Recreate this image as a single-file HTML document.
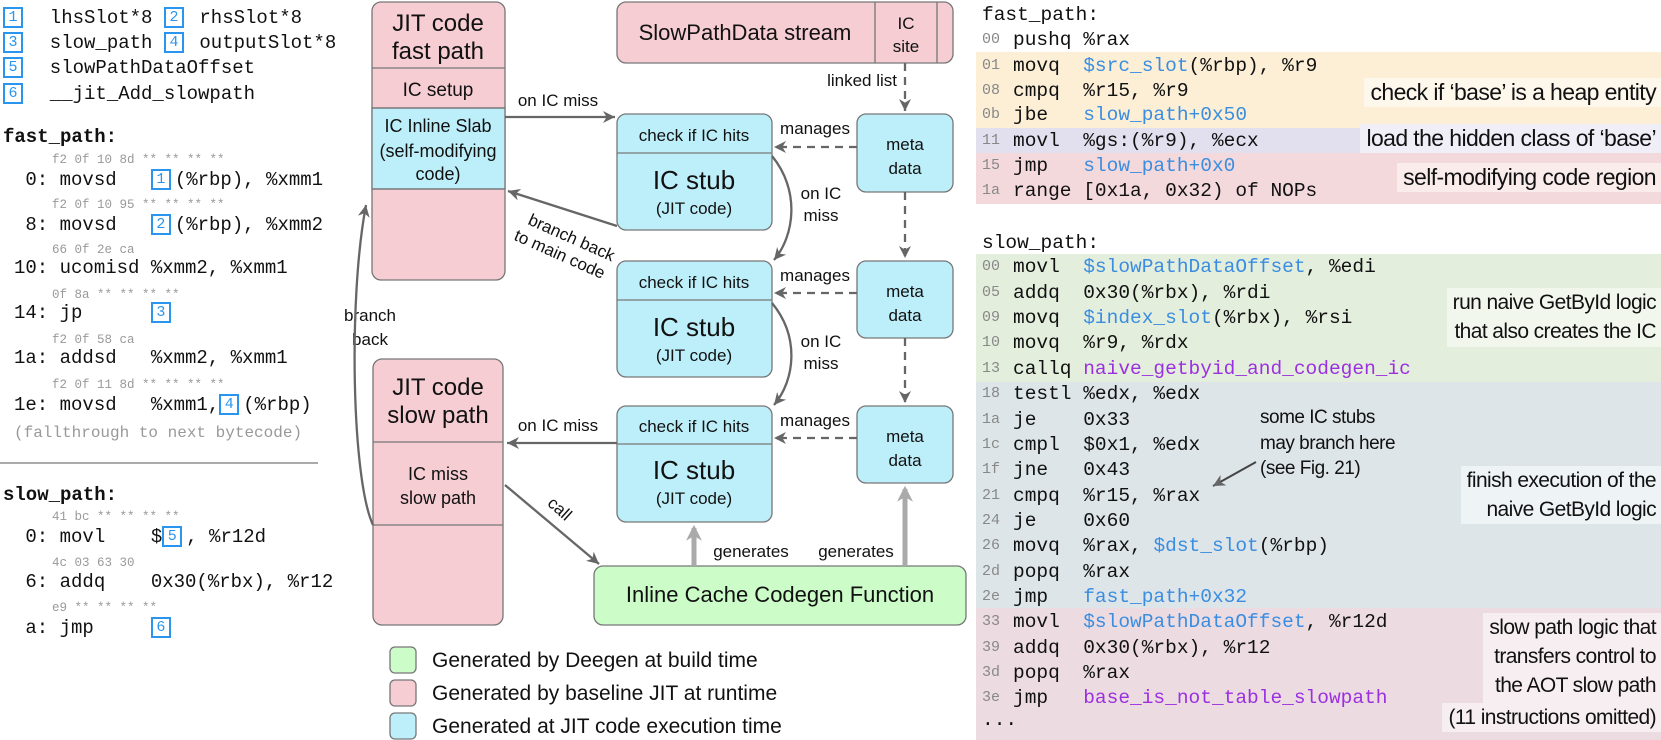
<!DOCTYPE html>
<html><head><meta charset="utf-8">
<style>
body{margin:0;background:#fff;}
#c{position:relative;width:1661px;height:740px;overflow:hidden;background:#fff;font-family:"Liberation Sans",sans-serif;}
.m{position:absolute;font-family:"Liberation Mono",monospace;white-space:pre;color:#111;}
.l{font-size:19px;line-height:24px;height:24px;}
.h{font-size:12.5px;line-height:14px;color:#999;}
.b{display:inline-block;box-sizing:border-box;width:20px;height:21px;border:2px solid #2a95ee;color:#2a95ee;font-size:15px;line-height:17px;text-align:center;vertical-align:2px;margin-right:4px;}
.r{font-size:19.5px;line-height:24px;height:24px;left:1013px;}
.n{position:absolute;left:982px;font-family:"Liberation Mono",monospace;font-size:15px;line-height:24px;color:#888;}
.bl{color:#3b8de0}.pu{color:#9b30e0}
.band{position:absolute;left:976px;right:0;}
.ann{position:absolute;right:0;font-size:21px;letter-spacing:-0.6px;text-align:right;color:#111;padding:0 5px 0 6px;line-height:29px;}
.big{font-size:23px;}
</style></head><body><div id="c">

<!-- LEFT PANEL -->
<div class="m l" style="left:3px;top:6px"><span class="b">1</span>  lhsSlot*8</div>
<div class="m l" style="left:164px;top:6px"><span class="b">2</span> rhsSlot*8</div>
<div class="m l" style="left:3px;top:31px"><span class="b">3</span>  slow_path</div>
<div class="m l" style="left:164px;top:31px"><span class="b">4</span> outputSlot*8</div>
<div class="m l" style="left:3px;top:56px"><span class="b">5</span>  slowPathDataOffset</div>
<div class="m l" style="left:3px;top:82px"><span class="b">6</span>  __jit_Add_slowpath</div>
<div class="m l" style="left:3px;top:125px;font-weight:bold">fast_path:</div>

<div class="m h" style="left:52px;top:153px">f2 0f 10 8d ** ** ** **</div>
<div class="m l" style="left:14px;top:168px"> 0: movsd   <span class="b">1</span>(%rbp), %xmm1</div>
<div class="m h" style="left:52px;top:198px">f2 0f 10 95 ** ** ** **</div>
<div class="m l" style="left:14px;top:213px"> 8: movsd   <span class="b">2</span>(%rbp), %xmm2</div>
<div class="m h" style="left:52px;top:243px">66 0f 2e ca</div>
<div class="m l" style="left:14px;top:256px">10: ucomisd %xmm2, %xmm1</div>
<div class="m h" style="left:52px;top:288px">0f 8a ** ** ** **</div>
<div class="m l" style="left:14px;top:301px">14: jp      <span class="b">3</span></div>
<div class="m h" style="left:52px;top:333px">f2 0f 58 ca</div>
<div class="m l" style="left:14px;top:346px">1a: addsd   %xmm2, %xmm1</div>
<div class="m h" style="left:52px;top:378px">f2 0f 11 8d ** ** ** **</div>
<div class="m l" style="left:14px;top:393px">1e: movsd   %xmm1,<span class="b">4</span>(%rbp)</div>
<div class="m" style="left:14px;top:423px;font-size:16px;line-height:20px;color:#999">(fallthrough to next bytecode)</div>
<div style="position:absolute;left:0;top:462px;width:318px;height:2px;background:#aaa"></div>
<div class="m l" style="left:3px;top:483px;font-weight:bold">slow_path:</div>
<div class="m h" style="left:52px;top:510px">41 bc ** ** ** **</div>
<div class="m l" style="left:14px;top:525px"> 0: movl    $<span class="b">5</span>, %r12d</div>
<div class="m h" style="left:52px;top:556px">4c 03 63 30</div>
<div class="m l" style="left:14px;top:570px"> 6: addq    0x30(%rbx), %r12</div>
<div class="m h" style="left:52px;top:601px">e9 ** ** ** **</div>
<div class="m l" style="left:14px;top:616px"> a: jmp     <span class="b">6</span></div>

<!-- MIDDLE DIAGRAM -->
<svg style="position:absolute;left:0;top:0" width="1661" height="740" font-family="Liberation Sans, sans-serif">
<defs>
<marker id="a" markerWidth="12" markerHeight="12" refX="10" refY="5" orient="auto" markerUnits="userSpaceOnUse" viewBox="0 0 10 10"><path d="M0,0 L10,5 L0,10 L3,5 z" fill="#666"/></marker>
<marker id="g" markerWidth="16" markerHeight="16" refX="8" refY="5" orient="auto" markerUnits="userSpaceOnUse" viewBox="0 0 10 10"><path d="M0,0 L10,5 L0,10 L3,5 z" fill="#aaa"/></marker>
</defs>
<g stroke="#777" stroke-width="1.3">
<rect x="372" y="2" width="133" height="278" rx="9" fill="#f5cdd3"/>
<rect x="372" y="108" width="133" height="81" fill="#bdeffa"/>
<line x1="372" y1="68" x2="505" y2="68"/><line x1="372" y1="108" x2="505" y2="108"/><line x1="372" y1="189" x2="505" y2="189"/>
<rect x="373" y="359" width="130" height="266" rx="9" fill="#f5cdd3"/>
<line x1="373" y1="442" x2="503" y2="442"/><line x1="373" y1="525" x2="503" y2="525"/>
<rect x="617" y="2" width="336" height="61" rx="9" fill="#f5cdd3"/>
<line x1="875" y1="2" x2="875" y2="63"/><line x1="937" y1="2" x2="937" y2="63"/>
<rect x="617" y="114" width="155" height="116" rx="9" fill="#bdeffa"/><line x1="617" y1="153" x2="772" y2="153"/>
<rect x="617" y="261" width="155" height="116" rx="9" fill="#bdeffa"/><line x1="617" y1="300" x2="772" y2="300"/>
<rect x="617" y="406" width="155" height="116" rx="9" fill="#bdeffa"/><line x1="617" y1="444" x2="772" y2="444"/>
<rect x="857" y="114" width="96" height="78" rx="9" fill="#bdeffa"/>
<rect x="857" y="261" width="96" height="77" rx="9" fill="#bdeffa"/>
<rect x="857" y="406" width="96" height="77" rx="9" fill="#bdeffa"/>
<rect x="594" y="566" width="372" height="59" rx="9" fill="#ccfcc8"/>
<rect x="390" y="647" width="26" height="26" rx="5" fill="#ccfcc8"/>
<rect x="390" y="680" width="26" height="26" rx="5" fill="#f5cdd3"/>
<rect x="390" y="713" width="26" height="26" rx="5" fill="#bdeffa"/>
</g>
<g fill="#111" text-anchor="middle">
<text x="438" y="31" font-size="24">JIT code</text><text x="438" y="59" font-size="24">fast path</text>
<text x="438" y="96" font-size="19">IC setup</text>
<text x="438" y="132" font-size="18">IC Inline Slab</text><text x="438" y="157" font-size="18">(self-modifying</text><text x="438" y="180" font-size="18">code)</text>
<text x="438" y="395" font-size="24">JIT code</text><text x="438" y="423" font-size="24">slow path</text>
<text x="438" y="480" font-size="18">IC miss</text><text x="438" y="504" font-size="18">slow path</text>
<text x="745" y="40" font-size="22">SlowPathData stream</text>
<text x="906" y="29" font-size="17">IC</text><text x="906" y="52" font-size="17">site</text>
<text x="694" y="141" font-size="17">check if IC hits</text><text x="694" y="189" font-size="26">IC stub</text><text x="694" y="214" font-size="17">(JIT code)</text>
<text x="694" y="288" font-size="17">check if IC hits</text><text x="694" y="336" font-size="26">IC stub</text><text x="694" y="361" font-size="17">(JIT code)</text>
<text x="694" y="432" font-size="17">check if IC hits</text><text x="694" y="479" font-size="26">IC stub</text><text x="694" y="504" font-size="17">(JIT code)</text>
<text x="905" y="150" font-size="17">meta</text><text x="905" y="174" font-size="17">data</text>
<text x="905" y="297" font-size="17">meta</text><text x="905" y="321" font-size="17">data</text>
<text x="905" y="442" font-size="17">meta</text><text x="905" y="466" font-size="17">data</text>
<text x="780" y="602" font-size="22">Inline Cache Codegen Function</text>
<text x="558" y="106" font-size="17">on IC miss</text>
<text x="558" y="431" font-size="17">on IC miss</text>
<text x="815" y="134" font-size="17">manages</text>
<text x="815" y="281" font-size="17">manages</text>
<text x="815" y="426" font-size="17">manages</text>
<text x="821" y="199" font-size="17">on IC</text><text x="821" y="221" font-size="17">miss</text>
<text x="821" y="347" font-size="17">on IC</text><text x="821" y="369" font-size="17">miss</text>
<text x="370" y="321" font-size="17">branch</text><text x="370" y="345" font-size="17">back</text>
<text x="751" y="557" font-size="17">generates</text>
<text x="856" y="557" font-size="17">generates</text>
<text x="897" y="86" font-size="17" text-anchor="end">linked list</text>
<g transform="translate(566,250) rotate(24)" font-size="17"><text x="0" y="-8">branch back</text><text x="-4" y="12">to main code</text></g>
<text transform="translate(556,513) rotate(42)" font-size="17">call</text>
</g>
<g font-size="21" fill="#111">
<text x="432" y="667">Generated by Deegen at build time</text>
<text x="432" y="700">Generated by baseline JIT at runtime</text>
<text x="432" y="733">Generated at JIT code execution time</text>
</g>
<g stroke="#666" stroke-width="2.3" fill="none">
<line x1="505" y1="117" x2="615" y2="117" marker-end="url(#a)"/>
<line x1="617" y1="443" x2="507" y2="443" marker-end="url(#a)"/>
<line x1="617" y1="226" x2="508" y2="191" marker-end="url(#a)"/>
<line x1="505" y1="485" x2="599" y2="564" marker-end="url(#a)"/>
<path d="M373 525 C 352 480, 348 300, 366 205" marker-end="url(#a)"/>
<path d="M772 156 C 800 190, 795 235, 774 260" marker-end="url(#a)"/>
<path d="M772 303 C 800 337, 795 380, 774 405" marker-end="url(#a)"/>
</g>
<g stroke="#666" stroke-width="2.3" fill="none" stroke-dasharray="8,6">
<line x1="905" y1="63" x2="905" y2="111" marker-end="url(#a)"/>
<line x1="905" y1="192" x2="905" y2="258" marker-end="url(#a)"/>
<line x1="905" y1="338" x2="905" y2="403" marker-end="url(#a)"/>
<line x1="857" y1="147" x2="774" y2="147" marker-end="url(#a)"/>
<line x1="857" y1="293" x2="774" y2="293" marker-end="url(#a)"/>
<line x1="857" y1="438" x2="774" y2="438" marker-end="url(#a)"/>
</g>
<g stroke="#aaa" stroke-width="5">
<line x1="694" y1="566" x2="694" y2="528" marker-end="url(#g)"/>
<line x1="905" y1="566" x2="905" y2="489" marker-end="url(#g)"/>
</g>
</svg>

<!-- RIGHT PANEL -->
<div class="band" style="top:52px;height:76px;background:#fcefd6"></div>
<div class="band" style="top:128px;height:25px;background:#e2e0ee"></div>
<div class="band" style="top:153px;height:51px;background:#f3d9dc"></div>
<div class="band" style="top:254px;height:128px;background:#e4eedd"></div>
<div class="band" style="top:382px;height:226px;background:#dde5e9"></div>
<div class="band" style="top:608px;height:132px;background:#ecdce2"></div>

<div class="m r" style="left:982px;top:3px">fast_path:</div>
<div class="n" style="top:28px">00</div><div class="m r" style="top:28px">pushq %rax</div>
<div class="n" style="top:54px">01</div><div class="m r" style="top:54px">movq  <span class="bl">$src_slot</span>(%rbp), %r9</div>
<div class="n" style="top:79px">08</div><div class="m r" style="top:79px">cmpq  %r15, %r9</div>
<div class="n" style="top:103px">0b</div><div class="m r" style="top:103px">jbe   <span class="bl">slow_path+0x50</span></div>
<div class="n" style="top:129px">11</div><div class="m r" style="top:129px">movl  %gs:(%r9), %ecx</div>
<div class="n" style="top:154px">15</div><div class="m r" style="top:154px">jmp   <span class="bl">slow_path+0x0</span></div>
<div class="n" style="top:179px">1a</div><div class="m r" style="top:179px">range [0x1a, 0x32) of NOPs</div>

<div class="ann big" style="top:78px;background:#fdf7ec">check if ‘base’ is a heap entity</div>
<div class="ann big" style="top:124px;background:#f0eef6">load the hidden class of ‘base’</div>
<div class="ann big" style="top:163px;background:#fbecec">self-modifying code region</div>

<div class="m r" style="left:982px;top:231px">slow_path:</div>
<div class="n" style="top:255px">00</div><div class="m r" style="top:255px">movl  <span class="bl">$slowPathDataOffset</span>, %edi</div>
<div class="n" style="top:281px">05</div><div class="m r" style="top:281px">addq  0x30(%rbx), %rdi</div>
<div class="n" style="top:306px">09</div><div class="m r" style="top:306px">movq  <span class="bl">$index_slot</span>(%rbx), %rsi</div>
<div class="n" style="top:331px">10</div><div class="m r" style="top:331px">movq  %r9, %rdx</div>
<div class="n" style="top:357px">13</div><div class="m r" style="top:357px">callq <span class="pu">naive_getbyid_and_codegen_ic</span></div>
<div class="n" style="top:382px">18</div><div class="m r" style="top:382px">testl %edx, %edx</div>
<div class="n" style="top:408px">1a</div><div class="m r" style="top:408px">je    0x33</div>
<div class="n" style="top:433px">1c</div><div class="m r" style="top:433px">cmpl  $0x1, %edx</div>
<div class="n" style="top:458px">1f</div><div class="m r" style="top:458px">jne   0x43</div>
<div class="n" style="top:484px">21</div><div class="m r" style="top:484px">cmpq  %r15, %rax</div>
<div class="n" style="top:509px">24</div><div class="m r" style="top:509px">je    0x60</div>
<div class="n" style="top:534px">26</div><div class="m r" style="top:534px">movq  %rax, <span class="bl">$dst_slot</span>(%rbp)</div>
<div class="n" style="top:560px">2d</div><div class="m r" style="top:560px">popq  %rax</div>
<div class="n" style="top:585px">2e</div><div class="m r" style="top:585px">jmp   <span class="bl">fast_path+0x32</span></div>
<div class="n" style="top:610px">33</div><div class="m r" style="top:610px">movl  <span class="bl">$slowPathDataOffset</span>, %r12d</div>
<div class="n" style="top:636px">39</div><div class="m r" style="top:636px">addq  0x30(%rbx), %r12</div>
<div class="n" style="top:661px">3d</div><div class="m r" style="top:661px">popq  %rax</div>
<div class="n" style="top:686px">3e</div><div class="m r" style="top:686px">jmp   <span class="pu">base_is_not_table_slowpath</span></div>
<div class="m r" style="left:982px;top:708px">...</div>

<div class="ann" style="top:288px;height:59px;background:#f2f7ee">run naive GetById logic<br>that also creates the IC</div>
<div class="ann" style="top:466px;height:58px;background:#eef3f5">finish execution of the<br>naive GetById logic</div>
<div class="ann" style="top:613px;height:90px;background:#f7eef2">slow path logic that<br>transfers control to<br>the AOT slow path</div>
<div class="ann" style="top:703px;background:#f7eef2">(11 instructions omitted)</div>
<div style="position:absolute;left:1260px;top:405px;font-size:19px;line-height:25.5px;letter-spacing:-0.5px;color:#111">some IC stubs<br>may branch here<br>(see Fig. 21)</div>
<svg style="position:absolute;left:0;top:0" width="1661" height="740"><line x1="1256" y1="462" x2="1213" y2="486" stroke="#444" stroke-width="2" marker-end="url(#a)"/></svg>
</div></body></html>
